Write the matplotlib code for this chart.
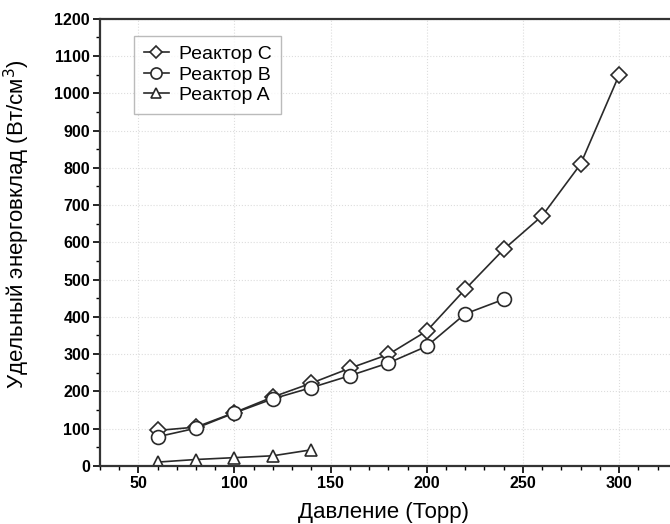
import matplotlib
matplotlib.use("Agg")
import matplotlib.pyplot as plt
from matplotlib.ticker import MultipleLocator

plt.rcParams['font.family'] = ['Liberation Sans', 'DejaVu Sans']

# данные
p_c = [60, 80, 100, 120, 140, 160, 180, 200, 220, 240, 260, 280, 300]
w_c = [95, 104, 143, 185, 222, 262, 299, 362, 474, 581, 671, 810, 1049]
p_b = [60, 80, 100, 120, 140, 160, 180, 200, 220, 240]
w_b = [78, 101, 142, 180, 210, 242, 276, 321, 408, 447]
p_a = [60, 80, 100, 120, 140]
w_a = [10, 17, 22, 27, 43]

fig = plt.figure(figsize=(6.7, 5.24), dpi=100)
ax = fig.add_axes([0.149, 0.111, 0.851, 0.853])

col = '#2a2a2a'
ax.plot(p_c, w_c, '-D', color=col, lw=1.2, ms=8, mfc='white', mec=col, mew=1.2, label='Реактор C')
ax.plot(p_b, w_b, '-o', color=col, lw=1.2, ms=10, mfc='white', mec=col, mew=1.2, label='Реактор B')
ax.plot(p_a, w_a, '-^', color=col, lw=1.2, ms=9, mfc='white', mec=col, mew=1.2, label='Реактор A')

ax.set_xlim(30, 326.5)
ax.set_ylim(0, 1200)
ax.xaxis.set_major_locator(MultipleLocator(50))
ax.xaxis.set_minor_locator(MultipleLocator(10))
ax.yaxis.set_major_locator(MultipleLocator(100))
ax.yaxis.set_minor_locator(MultipleLocator(50))

ax.grid(True, which='major', color='#dddddd', ls=':', lw=0.8)
ax.set_axisbelow(True)

for s in ['left', 'bottom', 'top']:
    ax.spines[s].set_linewidth(1.6)
    ax.spines[s].set_color('#333333')
ax.spines['right'].set_visible(False)

ax.tick_params(which='major', direction='out', length=5, width=1.2, labelsize=11.5, pad=2)
ax.tick_params(which='minor', direction='out', length=3, width=1)
for lab in ax.get_xticklabels() + ax.get_yticklabels():
    lab.set_fontweight('bold')

ax.set_xlabel('Давление (Торр)', fontsize=16, labelpad=5)
ax.xaxis.set_label_coords(0.497, -0.082)
ax.set_ylabel('Удельный энерговклад (Вт/см$^3$)', fontsize=16)
ax.yaxis.set_label_coords(-0.119, 0.541)

leg = ax.legend(loc='upper left', bbox_to_anchor=(0.06, 0.962), fontsize=14,
                frameon=True, fancybox=False, edgecolor='#aaaaaa',
                handlelength=1.3, handletextpad=0.5, borderpad=0.5, labelspacing=0.15,
                markerscale=0.8, borderaxespad=0)
leg.get_frame().set_linewidth(1.0)

fig.savefig('out.png', dpi=100)
